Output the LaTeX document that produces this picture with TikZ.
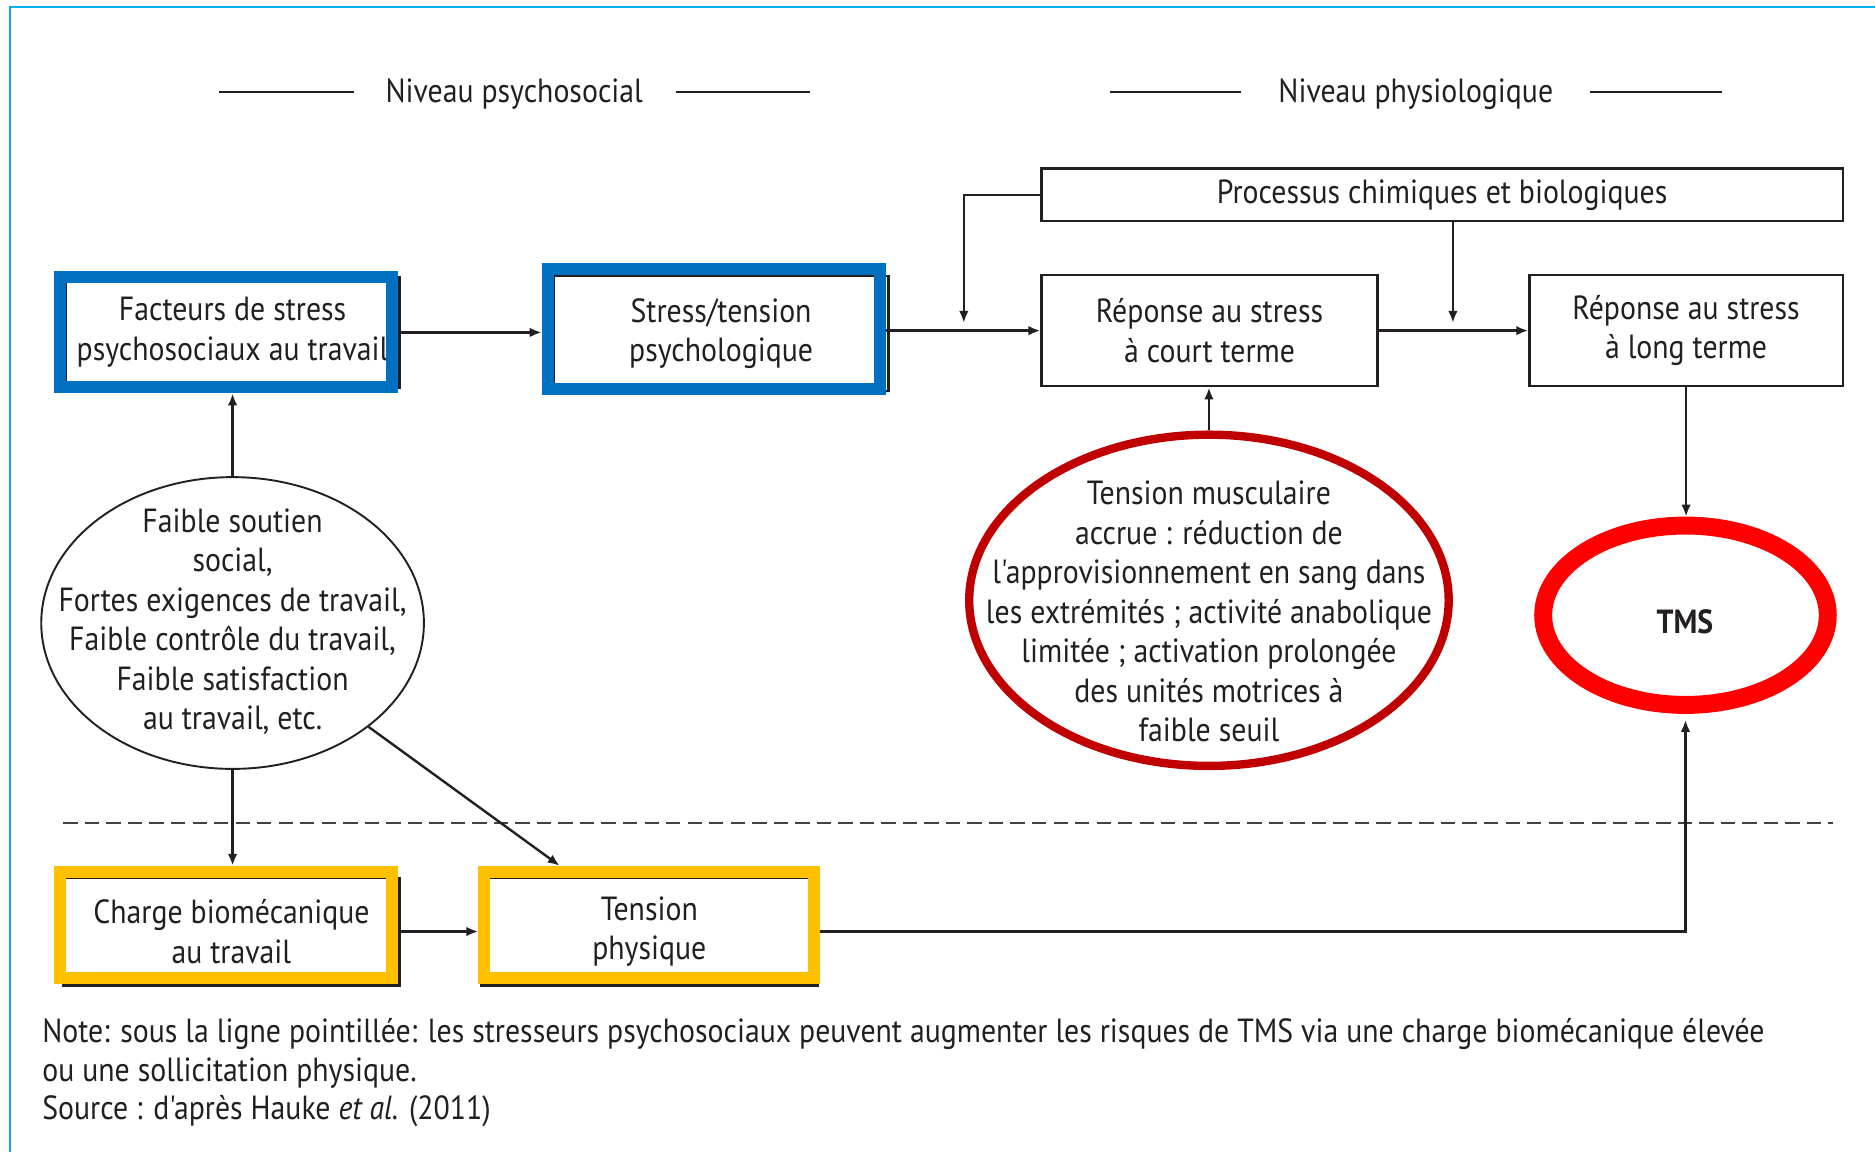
\documentclass[tikz,border=0pt]{standalone}
\usepackage{fontspec}
\newfontfamily\diagfont{PT Sans}[FakeStretch=0.89]
\usetikzlibrary{arrows.meta,shapes.geometric,calc}
\definecolor{hlblue}{RGB}{0,112,192}
\definecolor{hlyellow}{RGB}{255,192,0}
\definecolor{darkred}{RGB}{192,0,0}
\definecolor{tmsred}{RGB}{255,0,0}
\definecolor{framecyan}{RGB}{0,176,240}
\definecolor{ink}{RGB}{35,31,32}
\begin{document}
\begin{tikzpicture}[x=0.5pt,y=-0.5pt,
  font={\diagfont\fontsize{14}{16.5}\selectfont},
  every node/.style={text=ink},
  box/.style={draw=ink, line width=1pt, fill=white, align=center, inner sep=0pt},
  hl/.style={draw=#1, line width=5pt, inner sep=0pt},
  oval/.style={ellipse, inner sep=0pt},
  txt/.style={align=center, inner sep=0pt},
  arr/.style={draw=ink, line width=1pt, -{Latex[length=5pt,width=4pt]}},
  rule/.style={draw=ink, line width=0.9pt},
  sep/.style={draw=ink!85, line width=1pt, dash pattern=on 6pt off 3pt}
]
% page area and frame
\useasboundingbox (0,0) rectangle (1568,963);
\draw[framecyan, line width=0.8pt] (8,963) -- (8,6) -- (1568,6);

% level headings
\node[txt] (hpsy) at (430,79) {Niveau psychosocial};
\draw[rule] (183,77) -- (296,77);
\draw[rule] (565,77) -- (677,77);
\node[txt] (hphy) at (1184,79) {Niveau physiologique};
\draw[rule] (928,77) -- (1038,77);
\draw[rule] (1330,77) -- (1440,77);

% boxes
\node[box, minimum width=139.5pt, minimum height=46pt] (fact) at (194.5,278)
  {Facteurs de stress\\psychosociaux au travail};
\node[box, minimum width=140pt, minimum height=48pt] (stress) at (603,279)
  {Stress/tension\\psychologique};
\node[box, minimum width=335pt, minimum height=22pt] (proc) at (1206,163)
  {Processus chimiques et biologiques};
\node[box, minimum width=140.5pt, minimum height=46.5pt] (court) at (1011.5,276.5)
  {Réponse au stress\\à court terme};
\node[box, minimum width=131pt, minimum height=46.5pt] (long) at (1410,276.5)
  {Réponse au stress\\à long terme};
\node[box, minimum width=140.5pt, minimum height=45pt] (charge) at (193.5,779)
  {Charge biomécanique\\au travail};
\node[box, minimum width=141pt, minimum height=45pt] (tphys) at (543,779)
  {Tension\\physique};

% coloured highlight frames
\node[hl=hlblue, minimum width=139pt, minimum height=46pt] (factH) at (189,278) {};
\node[hl=hlblue, minimum width=139pt, minimum height=50pt] (stressH) at (597,275) {};
\node[hl=hlyellow, minimum width=139pt, minimum height=44.5pt] (chargeH) at (189,773.5) {};
\node[hl=hlyellow, minimum width=138pt, minimum height=44.5pt] (tphysH) at (543,773.5) {};

% ellipses
\node[oval, draw=ink, line width=0.8pt, fill=white, minimum width=160pt, minimum height=122pt] (faible) at (194.5,521) {};
\node[txt] at (194.5,520) {Faible soutien\\social,\\Fortes exigences de travail,\\Faible contrôle du travail,\\Faible satisfaction\\au travail, etc.};

\node[oval, draw=darkred, line width=3.5pt, fill=white, minimum width=200.5pt, minimum height=138.5pt] (musc) at (1011,502) {};
\node[txt] at (1011,511.5) {Tension musculaire\\accrue : réduction de\\l'approvisionnement en sang dans\\les extrémités ; activité anabolique\\limitée ; activation prolongée\\des unités motrices à\\faible seuil};

\node[oval, draw=tmsred, line width=7.5pt, fill=white, minimum width=119pt, minimum height=75pt] (tms) at (1409.5,514.5) {};
\node[txt, font={\diagfont\fontsize{14}{16.5}\selectfont\bfseries}] at (1409,520) {TMS};

% separator between levels
\coordinate (sepL) at (53,688);
\coordinate (sepR) at (1533,688);
\draw[sep] (sepL) -- (sepR);

% connectors
\coordinate (jA) at (806,270);
\coordinate (jB) at (1215,270);
\draw[arr] (fact.east) -- (fact.east -| stressH.west);
\draw[arr] (stressH.east |- court.west) -- (court.west);
\draw[arr] (court.east) -- (long.west);
\draw[arr] (proc.west) -| (jA);
\draw[arr] (jB |- proc.south) -- (jB);
\draw[arr] (musc.north) -- (musc.north |- court.south);
\draw[arr] (long.south) -- (long.south |- tms.north);
\draw[arr] (faible.north) -- (faible.north |- factH.south);
\draw[arr] (faible.south) -- (faible.south |- chargeH.north);
\draw[arr] (faible.south east) -- ($(tphysH.north west)!0.238!(tphysH.north east)$);
\draw[arr] (chargeH.east |- tphys.west) -- (tphysH.west |- tphys.west);
\draw[arr] (tphysH.east |- tphys.east) -| ($(tms.south)+(0,5)$);

% note
\node[align=left, anchor=west, inner sep=0pt, font={\diagfont\fontsize{14}{16}\selectfont}] (note) at (35,897)
  {Note: sous la ligne pointillée: les stresseurs psychosociaux peuvent augmenter les risques de TMS via une charge biomécanique élevée\\
   ou une sollicitation physique.\\
   Source : d'après Hauke \textit{et al.} (2011)};
\end{tikzpicture}
\end{document}
